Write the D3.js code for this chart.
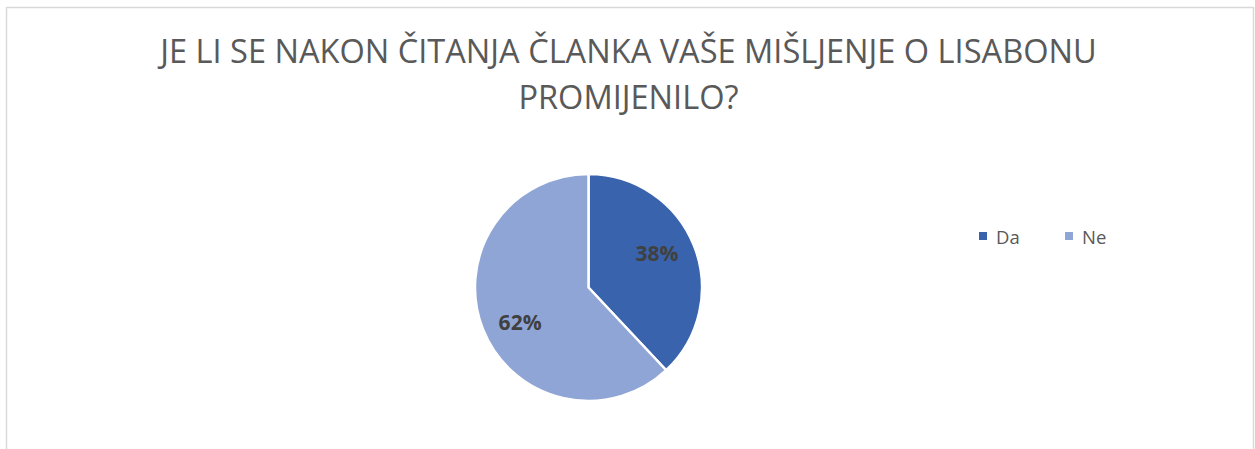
<!DOCTYPE html>
<html><head><meta charset="utf-8">
<script src="https://cdn.jsdelivr.net/npm/d3@7"></script>
<style>html,body{margin:0;padding:0;background:#fff;}svg{display:block;}</style>
</head><body>
<svg id="c" width="1255" height="449"></svg>
<script>
const titleLines = ["JE LI SE NAKON ČITANJA ČLANKA VAŠE MIŠLJENJE O LISABONU", "PROMIJENILO?"];
const categories = ["Da", "Ne"];
const values = [38, 62];
const colors = ["#3A63AD", "#8FA5D5"];

const svg = d3.select("#c");
const font = "'Open Sans', 'Noto Sans', sans-serif";

svg.append("rect").attr("x", 6.5).attr("y", 7.5).attr("width", 1247).attr("height", 460)
  .attr("fill", "#fff").attr("stroke", "#D9D9D9").attr("stroke-width", 1.5);

// Title
const tg = svg.append("g").attr("fill", "#595959").attr("font-family", font).attr("font-weight", 400);
const t1 = tg.append("text").attr("x", 628.5).attr("y", 63).attr("text-anchor", "middle")
  .attr("font-size", 30).text(titleLines[0]);
const targetW = 937;
const w1 = t1.node().getComputedTextLength();
const fs = 30 * targetW / w1;
t1.attr("font-size", fs);
tg.append("text").attr("x", 628.5).attr("y", 109).attr("text-anchor", "middle")
  .attr("font-size", fs).text(titleLines[1]);

// Pie
const cx = 588.5, cy = 287.5, R = 113.5;
const pie = d3.pie().sort(null).value(d => d)(values);
const arc = d3.arc().innerRadius(0).outerRadius(R);
const g = svg.append("g").attr("transform", `translate(${cx},${cy})`);
g.selectAll("path").data(pie).join("path")
  .attr("d", arc).attr("fill", (d, i) => colors[i])
  .attr("stroke", "#fff").attr("stroke-width", 2.5).attr("stroke-linejoin", "round");
const lr = R * 0.675, aoff = -0.09;
g.selectAll("text").data(pie).join("text")
  .attr("transform", d => {
    const a = (d.startAngle + d.endAngle) / 2 + aoff;
    return `translate(${lr * Math.sin(a)},${-lr * Math.cos(a)})`;
  })
  .attr("text-anchor", "middle").attr("dy", "0.36em")
  .attr("font-family", font).attr("font-weight", 700).attr("font-size", 21)
  .attr("fill", "#404040")
  .text(d => Math.round(d.data / d3.sum(values) * 100) + "%");

// Legend
const lx = [979, 1065];
const lg = svg.append("g").attr("font-family", font);
categories.forEach((c, i) => {
  lg.append("rect").attr("x", lx[i]).attr("y", 232).attr("width", 8).attr("height", 8).attr("fill", colors[i]);
  lg.append("text").attr("x", lx[i] + 17).attr("y", 243.5).attr("font-size", 18.5)
    .attr("fill", "#595959").text(c);
});
</script>
</body></html>
